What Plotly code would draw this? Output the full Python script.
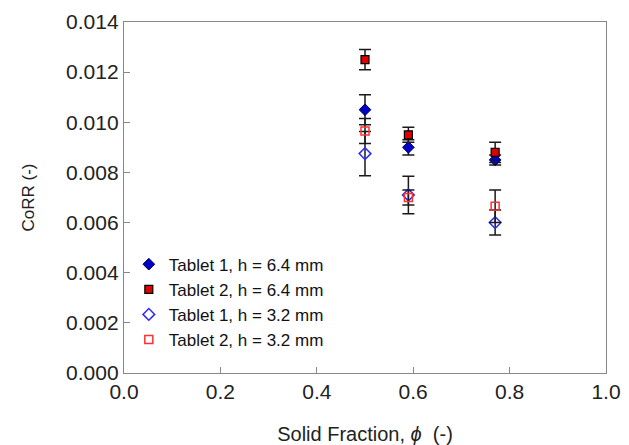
import plotly.graph_objects as go

x_vals = [0.50, 0.59, 0.77]

t1_64 = [0.01050, 0.00900, 0.00850]
t1_64_err = [0.00060, 0.00030, 0.00020]
t2_64 = [0.01250, 0.00950, 0.00880]
t2_64_err = [0.00040, 0.00030, 0.00040]
t1_32 = [0.00875, 0.00710, 0.00600]
t1_32_err = [0.00088, 0.00075, 0.00050]
t2_32 = [0.00965, 0.00700, 0.00665]
t2_32_err = [0.00050, 0.00030, 0.00065]

names = ["Tablet 1, h = 6.4 mm", "Tablet 2, h = 6.4 mm",
         "Tablet 1, h = 3.2 mm", "Tablet 2, h = 3.2 mm"]

series = [
    (t1_64, t1_64_err, dict(symbol="diamond", size=9, color="#0000c8", line=dict(color="#000050", width=1))),
    (t2_64, t2_64_err, dict(symbol="square", size=8, color="#e00000", line=dict(color="#000000", width=1.2))),
    (t1_32, t1_32_err, dict(symbol="diamond-open", size=9, color="#2a2aff", line=dict(color="#2a2aff", width=1.5))),
    (t2_32, t2_32_err, dict(symbol="square-open", size=8, color="#ff3030", line=dict(color="#ff3030", width=1.5))),
]

fig = go.Figure()
for name, (vals, errs, mk) in zip(names, series):
    fig.add_trace(go.Scatter(
        x=x_vals, y=vals, mode="markers", name=name, marker=mk,
        error_y=dict(type="data", array=errs, visible=True, color="#1a1a1a", thickness=1.5, width=6),
    ))

fig.update_layout(
    width=629, height=445,
    margin=dict(l=124, r=23, t=22, b=72),
    paper_bgcolor="white", plot_bgcolor="white",
    font=dict(family="Liberation Sans, Arial", color="#222222"),
    showlegend=True,
    legend=dict(x=0.01, y=0.36, xanchor="left", yanchor="top", bgcolor="rgba(0,0,0,0)",
                font=dict(size=17, color="#111111"), itemwidth=30, tracegroupgap=0,
                traceorder="normal"),
    xaxis=dict(range=[0, 1], tickvals=[0, 0.2, 0.4, 0.6, 0.8, 1.0],
               ticktext=["0.0", "0.2", "0.4", "0.6", "0.8", "1.0"],
               ticks="inside", ticklen=6, tickcolor="#888888", tickwidth=1,
               showline=True, linecolor="#888888", linewidth=1.3, mirror=True,
               showgrid=False, zeroline=False, automargin=False,
               tickfont=dict(size=21, color="#222222"),
               title=dict(text="Solid Fraction, <i>ϕ</i>  (-)", font=dict(size=20, color="#222222"), standoff=26)),
    yaxis=dict(range=[0, 0.014], tickvals=[0, 0.002, 0.004, 0.006, 0.008, 0.010, 0.012, 0.014],
               ticktext=["0.000", "0.002", "0.004", "0.006", "0.008", "0.010", "0.012", "0.014"],
               ticks="inside", ticklen=6, tickcolor="#888888", tickwidth=1,
               showline=True, linecolor="#888888", linewidth=1.3, mirror=True,
               showgrid=False, zeroline=False, automargin=False,
               tickfont=dict(size=21, color="#222222"),
               title=dict(text="CoRR (-)", font=dict(size=17, color="#222222"), standoff=27)),
)

fig.write_html("out.html")
